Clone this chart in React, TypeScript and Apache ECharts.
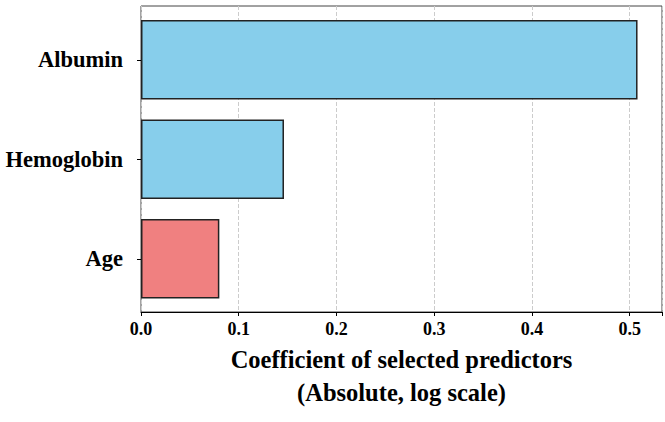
import React, { useEffect, useRef } from "react";
import * as echarts from "echarts";

const categories = ["Albumin", "Hemoglobin", "Age"];
const values = [0.507, 0.146, 0.08];
const barColors = ["#87CEEB", "#87CEEB", "#F08080"];
const xTicks = [0, 0.1, 0.2, 0.3, 0.4, 0.5];
const xMax = 0.533;
const axisTitle = "Coefficient of selected predictors\n(Absolute, log scale)";

const FONT = "'Liberation Serif', 'Times New Roman', serif";

export default function App() {
  const ref = useRef<HTMLDivElement>(null);
  useEffect(() => {
    if (!ref.current) return;
    const chart = echarts.init(ref.current, undefined, { renderer: "svg" });
    const isTick = (v: number) => xTicks.some((t) => Math.abs(t - v) < 1e-6);
    chart.setOption({
      animation: false,
      backgroundColor: "#fff",
      grid: [
        { left: 141, right: 2, top: 6, bottom: 110, show: true, borderColor: "#444", borderWidth: 1, backgroundColor: "transparent" },
        { left: 141, right: 2, top: 10, bottom: 113.5 },
      ],
      xAxis: [
        {
          gridIndex: 0,
          type: "value",
          min: 0,
          max: xMax,
          interval: 0.1,
          axisLine: { show: true, lineStyle: { color: "#000", width: 1 } },
          axisTick: { show: true, length: 4, lineStyle: { color: "#000" } },
          axisLabel: {
            margin: 8,
            color: "#000",
            fontFamily: FONT,
            fontWeight: "bold",
            fontSize: 18,
            formatter: (v: number) => (isTick(v) ? v.toFixed(1) : ""),
          },
          splitLine: { show: true, lineStyle: { color: "#cccccc", type: "dashed", width: 1 } },
          name: axisTitle,
          nameLocation: "middle",
          nameGap: 28,
          nameTextStyle: {
            color: "#000",
            fontFamily: FONT,
            fontWeight: "bold",
            fontSize: 24.5,
            lineHeight: 33,
          },
        },
        {
          gridIndex: 1,
          type: "value",
          min: 0,
          max: xMax,
          show: false,
        },
      ],
      yAxis: [
        { gridIndex: 0, type: "value", show: false, min: 0, max: 1, splitLine: { show: false } },
        {
          gridIndex: 1,
          type: "category",
          inverse: true,
          data: categories,
          axisLine: { show: false },
          axisTick: { show: true, alignWithLabel: true, length: 4, lineStyle: { color: "#000" } },
          axisLabel: {
            margin: 18,
            color: "#000",
            fontFamily: FONT,
            fontWeight: "bold",
            fontSize: 22.5,
          },
          splitLine: { show: false },
        },
      ],
      series: [
        {
          type: "bar",
          xAxisIndex: 1,
          yAxisIndex: 1,
          barWidth: "80%",
          data: values.map((v, i) => ({
            value: v,
            itemStyle: { color: barColors[i], borderColor: "#222", borderWidth: 1.5 },
          })),
        },
      ],
    });
    return () => chart.dispose();
  }, []);
  return <div ref={ref} style={{ width: 665, height: 422, position: "absolute", left: 0, top: 0 }} />;
}
